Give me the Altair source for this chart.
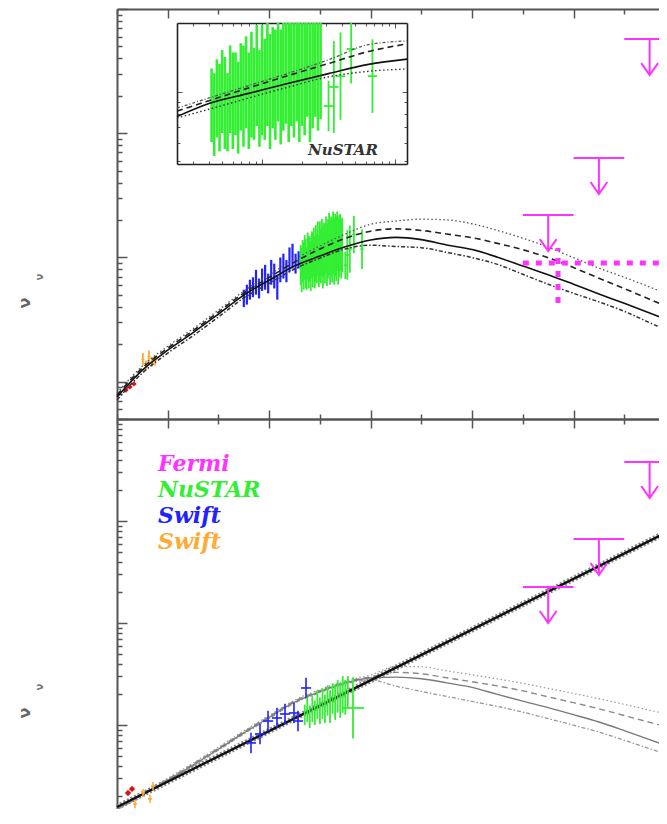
import altair as alt
import numpy as np
import pandas as pd

# ---------------- data (log10 E/keV, log10 nuFnu) ----------------
E_GRID = [-3.0, -2.5, -2.0, -1.5, -1.0, -0.5, 0.0, 0.5, 1.0, 1.5, 2.0, 2.5,
          3.0, 3.5, 4.0, 4.5, 5.0, 5.5, 6.0, 6.5, 7.0, 7.5, 8.0]

TOP_SOLID = [-13.124, -12.907, -12.747, -12.606, -12.456, -12.303, -12.184, -12.068, -11.989,
             -11.915, -11.860, -11.839, -11.857, -11.900, -11.937, -11.998, -12.069, -12.139,
             -12.216, -12.295, -12.370, -12.447, -12.528]
TOP_DASHED = [-13.108, -12.890, -12.731, -12.590, -12.440, -12.287, -12.161, -12.038, -11.932,
              -11.846, -11.789, -11.770, -11.783, -11.812, -11.841, -11.887, -11.938, -12.002,
              -12.082, -12.167, -12.251, -12.337, -12.424]
TOP_DOTTED = [-13.092, -12.874, -12.715, -12.574, -12.424, -12.271, -12.141, -12.014, -11.908,
              -11.812, -11.733, -11.707, -11.692, -11.698, -11.729, -11.783, -11.845, -11.918,
              -12.002, -12.086, -12.160, -12.238, -12.319]
TOP_DASHDOT = [-13.148, -12.931, -12.771, -12.630, -12.480, -12.326, -12.209, -12.093, -12.006,
               -11.932, -11.902, -11.912, -11.922, -11.959, -12.001, -12.056, -12.136, -12.216,
               -12.289, -12.358, -12.434, -12.526, -12.617]

BOT_SOLID = [-12.824, -12.682, -12.542, -12.393, -12.237, -12.078, -11.926, -11.776, -11.672,
             -11.588, -11.539, -11.531, -11.546, -11.587, -11.631, -11.700, -11.766, -11.830,
             -11.899, -11.971, -12.055, -12.143, -12.235]
BOT_DASHED = [-12.814, -12.672, -12.532, -12.383, -12.227, -12.068, -11.916, -11.766, -11.662,
              -11.578, -11.529, -11.484, -11.498, -11.537, -11.576, -11.617, -11.665, -11.724,
              -11.781, -11.841, -11.907, -11.974, -12.039]
BOT_DOTTED = [-12.804, -12.662, -12.522, -12.373, -12.217, -12.058, -11.906, -11.756, -11.652,
              -11.568, -11.510, -11.427, -11.429, -11.469, -11.508, -11.548, -11.592, -11.641,
              -11.691, -11.742, -11.798, -11.855, -11.912]
BOT_DASHDOT = [-12.834, -12.692, -12.552, -12.403, -12.247, -12.088, -11.936, -11.786, -11.682,
               -11.598, -11.559, -11.619, -11.671, -11.720, -11.769, -11.818, -11.874, -11.937,
               -12.002, -12.069, -12.150, -12.232, -12.314]
STRAIGHT_E = [-3.0, 2.5, 8.0]
STRAIGHT_F = [-12.804, -11.437, -10.069]

# inset model curves
INSET_E = [0.36, 0.6, 0.9, 1.2, 1.5, 1.8, 2.09]
INSET_SOLID = [-12.109, -12.052, -12.008, -11.964, -11.922, -11.882, -11.859]
INSET_DASHED = [-12.085, -12.040, -11.984, -11.930, -11.878, -11.826, -11.793]
INSET_DOTTED = [-12.072, -12.028, -11.974, -11.920, -11.862, -11.796, -11.780]
INSET_DASHDOT = [-12.115, -12.077, -12.028, -11.980, -11.936, -11.912, -11.902]

# top panel data
TOP_RED_E = [-2.823, -2.744, -2.665]
TOP_RED_F = [-13.068, -13.043, -13.019]
TOP_UV_E = [-2.49, -2.43, -2.37, -2.31, -2.25]
TOP_UV_F = [-12.82, -12.87, -12.80, -12.84, -12.83]
TOP_UV_ERR = [0.05, 0.04, 0.05, 0.04, 0.04]

TOP_XRT_E = [-0.50, -0.44, -0.38, -0.32, -0.26, -0.20, -0.14, -0.08, -0.02, 0.04, 0.10,
             0.16, 0.22, 0.28, 0.34, 0.40, 0.46, 0.52, 0.58, 0.64, 0.70]
TOP_XRT_F = [-12.33, -12.30, -12.26, -12.24, -12.20, -12.25, -12.18, -12.16, -12.21, -12.12,
             -12.15, -12.24, -12.10, -12.07, -12.11, -12.02, -11.99, -12.05, -12.02, -12.05, -12.02]
TOP_XRT_ERR = [0.07, 0.08, 0.08, 0.08, 0.10, 0.08, 0.09, 0.10, 0.08, 0.10, 0.10,
               0.10, 0.10, 0.10, 0.09, 0.10, 0.10, 0.08, 0.07, 0.07, 0.07]

NU_E = [0.62, 0.64, 0.66, 0.68, 0.70, 0.72, 0.74, 0.76, 0.78, 0.80, 0.82, 0.84, 0.86, 0.88,
        0.90, 0.92, 0.94, 0.96, 0.98, 1.00, 1.02, 1.04, 1.06, 1.08, 1.10, 1.12, 1.14, 1.16,
        1.18, 1.20, 1.22, 1.24, 1.26, 1.28, 1.30, 1.32, 1.34, 1.36, 1.38, 1.40, 1.42, 1.44]
NU_F = [-12.06, -12.10, -12.03, -12.07, -12.00, -12.05, -12.09, -11.99, -12.04, -12.01, -12.07,
        -11.98, -12.02, -11.96, -12.04, -11.97, -12.01, -11.93, -12.03, -11.95, -11.99, -11.92,
        -12.00, -11.94, -11.97, -11.90, -11.98, -11.93, -11.89, -11.96, -11.91, -11.94, -11.88,
        -11.95, -11.90, -11.93, -11.87, -11.95, -11.91, -11.88, -11.93, -11.90]
NU_ERR = [0.16, 0.18, 0.17, 0.19, 0.18, 0.20, 0.17, 0.19, 0.21, 0.18, 0.20, 0.19, 0.22, 0.20,
          0.21, 0.23, 0.20, 0.22, 0.21, 0.24, 0.22, 0.23, 0.25, 0.22, 0.24, 0.23, 0.25, 0.24,
          0.25, 0.26, 0.24, 0.26, 0.25, 0.27, 0.25, 0.26, 0.24, 0.27, 0.25, 0.23, 0.24, 0.22]
NU_HI_E = [1.50, 1.54, 1.59, 1.67, 1.83]
NU_HI_F = [-12.063, -11.98, -11.933, -11.815, -11.933]
NU_HI_ERR = [0.11, 0.20, 0.19, 0.15, 0.16]
NU_HI_XERR = [0.035, 0.035, 0.035, 0.035, 0.035]

FERMI_E_LO = [5.0, 6.0, 7.0]
FERMI_E_HI = [6.0, 7.0, 8.0]
FERMI_E_MID = [5.5, 6.5, 7.5]
TOP_FERMI_UL = [-11.659, -11.200, -10.242]
BOT_FERMI_UL = [-10.647, -10.176, -9.422]
FERMI_DET_E = [5.694]
FERMI_DET_ELO = [5.0]
FERMI_DET_EHI = [8.0]
FERMI_DET_F = [-12.045]
FERMI_DET_FLO = [-12.367]
FERMI_DET_FHI = [-11.924]

# bottom panel data
BOT_RED_E = [-2.783, -2.704]
BOT_RED_F = [-12.667, -12.627]
BOT_UV_E = [-2.645, -2.487, -2.349, -2.290]
BOT_UV_F = [-12.775, -12.667, -12.725, -12.598]
BOT_XRT_E = [-0.359, -0.181, -0.023, 0.154, 0.312, 0.489, 0.568, 0.726]
BOT_XRT_F = [-12.176, -12.088, -11.961, -11.931, -11.892, -11.882, -11.961, -11.637]
BOT_XRT_ERR = [0.10, 0.10, 0.10, 0.10, 0.10, 0.10, 0.10, 0.10]
BOT_NU_E = [0.70, 0.75, 0.80, 0.85, 0.90, 0.95, 1.00, 1.05, 1.10, 1.15, 1.20, 1.25, 1.30,
            1.35, 1.40, 1.45, 1.50, 1.55]
BOT_NU_F = [-11.90, -11.85, -11.92, -11.84, -11.88, -11.80, -11.86, -11.79, -11.84, -11.76,
            -11.82, -11.74, -11.78, -11.72, -11.76, -11.70, -11.73, -11.68]
BOT_NU_ERR = [0.10, 0.12, 0.11, 0.13, 0.12, 0.14, 0.13, 0.15, 0.14, 0.15, 0.16, 0.15, 0.17,
              0.16, 0.17, 0.18, 0.17, 0.16]
BOT_NU_BIG_E = [1.652]
BOT_NU_BIG_F = [-11.833]
BOT_NU_BIG_ERR = [0.30]
BOT_NU_BIG_XERR = [0.22]

LEGEND_TEXT = ["Fermi", "NuSTAR", "Swift", "Swift"]
LEGEND_COLORS = ["#ff33ff", "#33ee33", "#2222ff", "#ffaa33"]

# ---------------- styling / geometry ----------------
MAG = "#ff33ff"
GREEN = "#33ee33"
BLUE = "#2222ff"
ORANGE = "#ffaa33"
RED = "#dd1111"
FRAME = "#555555"

VIEW_W = 542      # visible part of the plot area
VIEW_H = 800
PLOT_W = 558      # full panel width (right edge is cropped like the reference)
TOP_H = 410
BOT_Y0 = 410
BOT_Y1 = 818

X_DOM = [-3.0, 8.0]
Y_TOP_DOM = [-13.301, -10.0]
Y_BOT_DOM = [-13.0, -9.0]
IN_X_DOM = [0.36, 2.09]
IN_Y_DOM = [-12.315, -11.702]


def log_ticks(lo, hi):
    vals = []
    for d in range(int(np.floor(lo)) - 1, int(np.ceil(hi)) + 1):
        for k in range(1, 10):
            v = d + np.log10(k)
            if lo - 1e-6 <= v <= hi + 1e-6:
                vals.append(round(float(v), 5))
    return sorted(vals)


X_TICKS = [float(v) for v in range(-3, 9)]
Y_TOP_TICKS = log_ticks(*Y_TOP_DOM)
Y_BOT_TICKS = log_ticks(*Y_BOT_DOM)
IN_X_TICKS = log_ticks(*IN_X_DOM)
IN_Y_TICKS = log_ticks(*IN_Y_DOM)

INT_TEST = "abs(datum.value - round(datum.value)) < 0.001"
EVEN_TEST = "abs(datum.value % 2) < 0.001"


def ax(orient, offset, values, test, big, small, dcolor=FRAME, dwidth=2.0, twidth=1.5):
    return alt.Axis(orient=orient, offset=offset, values=values, labels=False, title=None,
                    grid=False, domain=True, domainColor=dcolor, domainWidth=dwidth,
                    ticks=True, tickColor=FRAME, tickWidth=twidth,
                    tickSize={"condition": {"test": test, "value": big}, "value": small})


def sc(dom, rng, clamp=False):
    return alt.Scale(domain=dom, range=rng, nice=False, zero=False, clamp=clamp)


def err_df(E, F, ERR=None, XERR=None):
    d = pd.DataFrame({"e": E, "f": F})
    if ERR is not None:
        d["lo"] = d["f"] - np.array(ERR)
        d["hi"] = d["f"] + np.array(ERR)
    if XERR is not None:
        d["xlo"] = d["e"] - np.array(XERR)
        d["xhi"] = d["e"] + np.array(XERR)
    return d


def vbars(d, xs, ys, color, w=1.5):
    return alt.Chart(d).mark_rule(color=color, strokeWidth=w).encode(
        x=alt.X("e:Q", scale=xs, axis=None),
        y=alt.Y("lo:Q", scale=ys, axis=None), y2="hi:Q")


def hbars(d, xs, ys, color, w=1.5):
    return alt.Chart(d).mark_rule(color=color, strokeWidth=w).encode(
        x=alt.X("xlo:Q", scale=xs, axis=None), x2="xhi:Q",
        y=alt.Y("f:Q", scale=ys, axis=None))


def curve(E, F, xs, ys, axx=None, axy=None, **mk):
    d = pd.DataFrame({"e": E, "f": F})
    return alt.Chart(d).mark_line(interpolate="monotone", **mk).encode(
        x=alt.X("e:Q", scale=xs, axis=axx), y=alt.Y("f:Q", scale=ys, axis=axy))


def dots(E, F, xs, ys, color, size=28):
    d = pd.DataFrame({"e": E, "f": F})
    return alt.Chart(d).mark_point(filled=True, color=color, size=size, opacity=1,
                                   shape="diamond").encode(
        x=alt.X("e:Q", scale=xs, axis=None), y=alt.Y("f:Q", scale=ys, axis=None))


UL_SHAPE = "M0,0L0,3M-0.7,2L0,3L0.7,2"


def upper_limits(UL, xs, ys):
    d = pd.DataFrame({"lo": FERMI_E_LO, "hi": FERMI_E_HI, "mid": FERMI_E_MID, "ul": UL})
    bar = alt.Chart(d).mark_rule(color=MAG, strokeWidth=2).encode(
        x=alt.X("lo:Q", scale=xs, axis=None), x2="hi:Q",
        y=alt.Y("ul:Q", scale=ys, axis=None))
    arrow = alt.Chart(d).mark_point(shape=UL_SHAPE, size=576, filled=False, color=MAG,
                                    strokeWidth=2, opacity=1).encode(
        x=alt.X("mid:Q", scale=xs, axis=None), y=alt.Y("ul:Q", scale=ys, axis=None))
    return [bar, arrow]


def ylabel(y_big, y_small):
    big = alt.Chart(pd.DataFrame({"t": ["ν"]})).mark_text(
        angle=270, fontSize=16, font="DejaVu Sans", fontWeight="bold", color="#666666",
        align="center", baseline="middle").encode(
        x=alt.value(-92), y=alt.value(y_big), text="t:N")
    small = alt.Chart(pd.DataFrame({"t": ["ν"]})).mark_text(
        angle=270, fontSize=10, font="DejaVu Sans", fontWeight="bold", color="#777777",
        align="center", baseline="middle").encode(
        x=alt.value(-77), y=alt.value(y_small), text="t:N")
    return [big, small]


# ---------------- top panel ----------------
xs_t = sc(X_DOM, [0, PLOT_W])
yt = sc(Y_TOP_DOM, [TOP_H, 0])

top_curves = [
    curve(E_GRID, TOP_DOTTED, xs_t, yt, color="#555555", strokeWidth=1.3, strokeDash=[1.5, 2.5]),
    curve(E_GRID, TOP_DASHDOT, xs_t, yt, color="#333333", strokeWidth=1.5, strokeDash=[4, 2, 1.5, 2]),
    curve(E_GRID, TOP_DASHED, xs_t, yt,
          axx=ax("top", -TOP_H, X_TICKS, EVEN_TEST, 9, 5),
          color="#222222", strokeWidth=1.6, strokeDash=[6, 4]),
    curve(E_GRID, TOP_SOLID, xs_t, yt,
          axx=ax("bottom", -VIEW_H, X_TICKS, EVEN_TEST, 9, 5),
          axy=ax("right", -VIEW_W, Y_TOP_TICKS, INT_TEST, 10, 5),
          color="#111111", strokeWidth=1.6),
]
top_data = [
    vbars(err_df(TOP_XRT_E, TOP_XRT_F, TOP_XRT_ERR), xs_t, yt, BLUE, 2.2),
    vbars(err_df(NU_E, NU_F, NU_ERR), xs_t, yt, GREEN, 1.8),
    vbars(err_df(NU_HI_E, NU_HI_F, NU_HI_ERR), xs_t, yt, GREEN, 1.8),
    hbars(err_df(NU_HI_E, NU_HI_F, None, NU_HI_XERR), xs_t, yt, GREEN, 1.6),
    vbars(err_df(TOP_UV_E, TOP_UV_F, TOP_UV_ERR), xs_t, yt, ORANGE, 1.8),
    hbars(err_df(TOP_UV_E, TOP_UV_F, None, [0.03] * len(TOP_UV_E)), xs_t, yt, ORANGE, 1.6),
    dots(TOP_RED_E, TOP_RED_F, xs_t, yt, RED),
]
det = pd.DataFrame({"e": FERMI_DET_E, "elo": FERMI_DET_ELO, "ehi": FERMI_DET_EHI,
                    "f": FERMI_DET_F, "flo": FERMI_DET_FLO, "fhi": FERMI_DET_FHI})
fermi_det = [
    alt.Chart(det).mark_rule(color=MAG, strokeWidth=5, strokeDash=[6, 7], strokeCap="butt").encode(
        x=alt.X("elo:Q", scale=xs_t, axis=None), x2="ehi:Q", y=alt.Y("f:Q", scale=yt, axis=None)),
    alt.Chart(det).mark_rule(color=MAG, strokeWidth=5, strokeDash=[6, 7], strokeCap="butt").encode(
        x=alt.X("e:Q", scale=xs_t, axis=None), y=alt.Y("flo:Q", scale=yt, axis=None), y2="fhi:Q"),
]
top_panel = alt.layer(*(top_data + top_curves + fermi_det + upper_limits(TOP_FERMI_UL, xs_t, yt)
                        + ylabel(294, 268))).resolve_axis(x="independent", y="independent")

# ---------------- inset ----------------
ix = sc(IN_X_DOM, [60, 290])
iy = sc(IN_Y_DOM, [155, 14], clamp=True)
inset_layers = [
    vbars(err_df(NU_E, NU_F, NU_ERR), ix, iy, GREEN, 2.6),
    vbars(err_df(NU_HI_E, NU_HI_F, NU_HI_ERR), ix, iy, GREEN, 1.8),
    hbars(err_df(NU_HI_E, NU_HI_F, None, NU_HI_XERR), ix, iy, GREEN, 1.8),
    curve(INSET_E, INSET_DOTTED, ix, iy, color="#555555", strokeWidth=1.3, strokeDash=[3, 2, 1, 2]),
    curve(INSET_E, INSET_DASHDOT, ix, iy, color="#333333", strokeWidth=1.4, strokeDash=[1.5, 2.5]),
    curve(INSET_E, INSET_DASHED, ix, iy,
          axx=ax("bottom", -(VIEW_H - 14), IN_X_TICKS, INT_TEST, 5, 3, "#222222", 1.6, 1),
          axy=ax("left", -290, IN_Y_TICKS, INT_TEST, 5, 3, "#222222", 1.6, 1),
          color="#222222", strokeWidth=1.6, strokeDash=[6, 4]),
    curve(INSET_E, INSET_SOLID, ix, iy,
          axx=ax("top", -155, IN_X_TICKS, INT_TEST, 5, 3, "#222222", 1.6, 1),
          axy=ax("right", -(VIEW_W - 60), IN_Y_TICKS, INT_TEST, 5, 3, "#222222", 1.6, 1),
          color="#111111", strokeWidth=1.6),
    alt.Chart(pd.DataFrame({"t": ["NuSTAR"]})).mark_text(
        font="DejaVu Serif", fontStyle="italic", fontWeight="bold", fontSize=15,
        color="#333333", align="center", baseline="alphabetic").encode(
        x=alt.value(226), y=alt.value(146), text="t:N"),
]
inset = alt.layer(*inset_layers).resolve_axis(x="independent", y="independent")

# ---------------- bottom panel ----------------
xs_b = sc(X_DOM, [0, PLOT_W])
yb = sc(Y_BOT_DOM, [BOT_Y1, BOT_Y0])
bot_curves = [
    curve(E_GRID, BOT_DOTTED, xs_b, yb, color="#999999", strokeWidth=1.2, strokeDash=[1.5, 2.5]),
    curve(E_GRID, BOT_DASHDOT, xs_b, yb, color="#999999", strokeWidth=1.3, strokeDash=[4, 2, 1.5, 2]),
    curve(E_GRID, BOT_DASHED, xs_b, yb,
          axx=ax("top", -BOT_Y1, X_TICKS, EVEN_TEST, 9, 5),
          color="#8a8a8a", strokeWidth=1.4, strokeDash=[6, 4]),
    curve(E_GRID, BOT_SOLID, xs_b, yb,
          axx=ax("bottom", -(VIEW_H - BOT_Y0), X_TICKS, EVEN_TEST, 9, 5),
          axy=ax("right", -VIEW_W, Y_BOT_TICKS, INT_TEST, 10, 5),
          color="#7a7a7a", strokeWidth=1.4),
    curve(STRAIGHT_E, STRAIGHT_F, xs_b, yb, color="#888888", strokeWidth=6, strokeDash=[2, 2]),
    curve(STRAIGHT_E, STRAIGHT_F, xs_b, yb, color="#111111", strokeWidth=2.4),
]
bot_data = [
    vbars(err_df(BOT_XRT_E, BOT_XRT_F, BOT_XRT_ERR), xs_b, yb, BLUE, 1.6),
    hbars(err_df(BOT_XRT_E, BOT_XRT_F, None, [0.1] * len(BOT_XRT_E)), xs_b, yb, BLUE, 1.6),
    vbars(err_df(BOT_NU_E, BOT_NU_F, BOT_NU_ERR), xs_b, yb, GREEN, 1.8),
    vbars(err_df(BOT_NU_BIG_E, BOT_NU_BIG_F, BOT_NU_BIG_ERR), xs_b, yb, GREEN, 1.8),
    hbars(err_df(BOT_NU_BIG_E, BOT_NU_BIG_F, None, BOT_NU_BIG_XERR), xs_b, yb, GREEN, 1.8),
    vbars(err_df(BOT_UV_E, BOT_UV_F, [0.04] * len(BOT_UV_E)), xs_b, yb, ORANGE, 1.6),
    hbars(err_df(BOT_UV_E, BOT_UV_F, None, [0.04] * len(BOT_UV_E)), xs_b, yb, ORANGE, 1.6),
    dots(BOT_RED_E, BOT_RED_F, xs_b, yb, RED, 40),
]
legend = []
for i, (txt, col) in enumerate(zip(LEGEND_TEXT, LEGEND_COLORS)):
    legend.append(alt.Chart(pd.DataFrame({"t": [txt]})).mark_text(
        font="DejaVu Serif", fontStyle="italic", fontWeight="bold", fontSize=22,
        color=col, align="left", baseline="alphabetic").encode(
        x=alt.value(41), y=alt.value(BOT_Y0 + 52 + 26 * i), text="t:N"))

bottom_panel = alt.layer(*(bot_curves + bot_data + upper_limits(BOT_FERMI_UL, xs_b, yb) + legend
                           + ylabel(704, 678))).resolve_axis(x="independent", y="independent")

chart = alt.layer(top_panel, inset, bottom_panel).resolve_scale(
    x="independent", y="independent"
).properties(
    width=VIEW_W, height=VIEW_H,
    autosize=alt.AutoSizeParams(type="none"),
    padding={"left": 109, "top": 1, "right": 0, "bottom": 0},
).configure_view(strokeWidth=0)

chart.save("out.html", embed_options={"renderer": "svg", "actions": False})
